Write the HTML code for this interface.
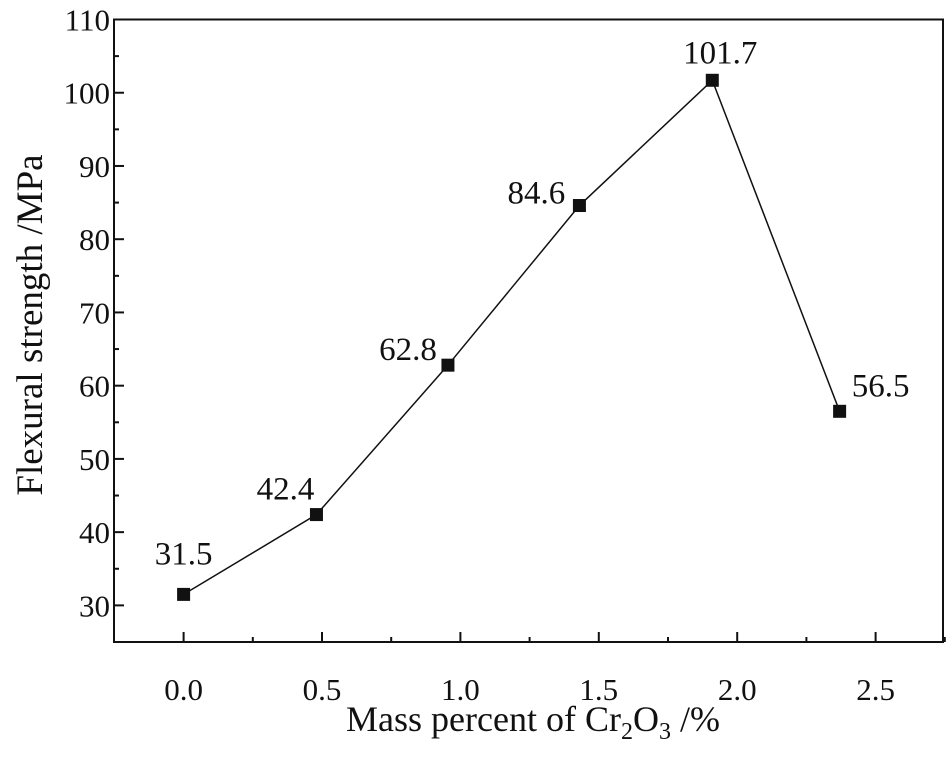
<!DOCTYPE html>
<html><head><meta charset="utf-8"><style>
body{margin:0;background:#fff}
svg text{font-family:"Liberation Serif","DejaVu Serif",serif;fill:#111}
</style></head><body>
<svg id="chart" width="946" height="752" viewBox="0 0 946 752" xmlns="http://www.w3.org/2000/svg" font-family="Liberation Serif, serif">
<g id="axes"></g><g id="series"></g>
<text x="533" y="731" font-size="36" text-anchor="middle" font-family="Liberation Serif, serif">Mass percent of Cr<tspan font-size="24" dy="8">2</tspan><tspan dy="-8">O</tspan><tspan font-size="24" dy="8">3</tspan><tspan dy="-8"> /%</tspan></text>
<text transform="translate(42,325) rotate(-90)" font-size="37" text-anchor="middle" font-family="Liberation Serif, serif">Flexural strength /MPa</text>
</svg>
<script>
const xValues=[0,0.48,0.955,1.43,1.91,2.37];
const yValues=[31.5,42.4,62.8,84.6,101.7,56.5];
const pointLabels=["31.5","42.4","62.8","84.6","101.7","56.5"];
const xTicks=[0,0.5,1.0,1.5,2.0,2.5];
const xTickLabels=["0.0","0.5","1.0","1.5","2.0","2.5"];
const yTicks=[30,40,50,60,70,80,90,100,110];
const L=114,R=943,T=19.5,B=642;
const xs=v=>183.6+v*276.8;
const ys=v=>B-(v-25)/85*(B-T);
const NS="http://www.w3.org/2000/svg";
function mk(p,t,a){const e=document.createElementNS(NS,t);for(const k in a)e.setAttribute(k,a[k]);p.appendChild(e);return e;}
const ax=document.getElementById('axes'),se=document.getElementById('series');
const frame=mk(ax,'rect',{x:L,y:T,width:R-L,height:B-T,fill:'none',stroke:'#111','stroke-width':2});


xTicks.forEach((v,i)=>{
  const t=mk(ax,'line',{x1:xs(v),x2:xs(v),y1:B,y2:B-10,stroke:'#111','stroke-width':2});
  
  
  const m=mk(ax,'line',{x1:xs(v+0.25),x2:xs(v+0.25),y1:B,y2:B-5,stroke:'#111','stroke-width':2});
  
  
  const l=mk(ax,'text',{x:xs(v),y:B+58,'font-size':31,'text-anchor':'middle','font-family':'Liberation Serif, serif'});l.textContent=xTickLabels[i];
  
  
});
yTicks.forEach(v=>{
  const t=mk(ax,'line',{x1:L,x2:L+10,y1:ys(v),y2:ys(v),stroke:'#111','stroke-width':2});
  
  
  if(v<110){const m=mk(ax,'line',{x1:L,x2:L+5,y1:ys(v+5),y2:ys(v+5),stroke:'#111','stroke-width':2});
  
  }
  const l=mk(ax,'text',{x:L-4,y:ys(v)+11,'font-size':31,'text-anchor':'end','font-family':'Liberation Serif, serif'});l.textContent=v;
  
  
});
const pl=mk(se,'polyline',{points:xValues.map((v,i)=>xs(v)+','+ys(yValues[i])).join(' '),fill:'none',stroke:'#111','stroke-width':1.5});


const offs=[[0,-30],[-31,-15],[-40,-5],[-43,-2],[8,-17],[41,-15]];
xValues.forEach((v,i)=>{
  const r=mk(se,'rect',{x:xs(v)-6.5,y:ys(yValues[i])-6.5,width:13,height:13,fill:'#111'});
  
  
  const l=mk(se,'text',{x:xs(v)+offs[i][0],y:ys(yValues[i])+offs[i][1],'font-size':33,'text-anchor':'middle','font-family':'Liberation Serif, serif'});l.textContent=pointLabels[i];
  
  
});
</script>
</body></html>
